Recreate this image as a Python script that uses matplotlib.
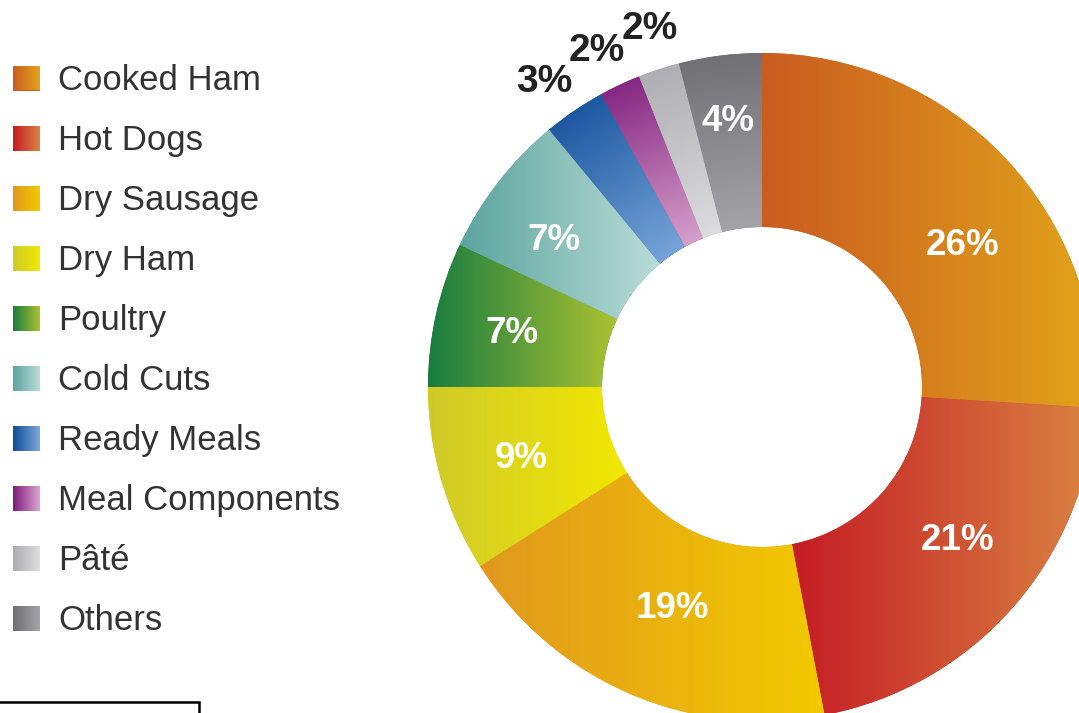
import numpy as np
import matplotlib
matplotlib.use("Agg")
import matplotlib.pyplot as plt
from matplotlib.colors import to_rgb

plt.rcParams['font.family'] = ['Liberation Sans', 'DejaVu Sans']

#data---------------------------------------------------------------------------
categories = ["Cooked Ham", "Hot Dogs", "Dry Sausage", "Dry Ham", "Poultry",
              "Cold Cuts", "Ready Meals", "Meal Components", "Pâté", "Others"]
shares = [26, 21, 19, 9, 7, 7, 3, 2, 2, 4]

#gradient colours for each slice (start -> end) and direction ('h' = left to right, 'r' = outer to inner)
grad_start = ["#C95C20", "#C41C24", "#E1981E", "#D0CA2A", "#187C40",
              "#5CA49E", "#0E4C98", "#7E1C7C", "#ACACB0", "#6E6E72"]
grad_end = ["#E2A41A", "#DA8442", "#F2CA00", "#F2E800", "#ACC232",
            "#BADDD8", "#7EAADC", "#DAA6CE", "#DEDEE0", "#A6A6AA"]
grad_dir = ["h", "h", "h", "h", "h", "h", "r", "r", "r", "r"]
#small nudges (px) for the percentage labels
label_nudge = [(18, -30), (8, 12), (10, 8), (0, -2), (-6, -1),
               (-10, -7), (-5, -9), (-4, -7), (5, -3), (0, -3)]

#canvas in pixel units
W, H = 1079, 713
fig = plt.figure(figsize=(W/100, H/100), dpi=100)
ax = fig.add_axes([0, 0, 1, 1])

cx, cy = 762, H - 387
r_out, ring = 334, 174

wedges, _ = ax.pie(shares, startangle=90, counterclock=False, radius=r_out,
                   center=(cx, cy), colors=grad_start,
                   wedgeprops=dict(width=ring, linewidth=0))

def gradient_fill(patch, c1, c2, direction):
    """Fill a patch with a linear gradient clipped to its outline"""
    bb = patch.get_path().get_extents(patch.get_patch_transform())
    x0, y0, x1, y1 = bb.x0, bb.y0, bb.x1, bb.y1
    xs = np.linspace(x0, x1, 300)
    ys = np.linspace(y0, y1, 300)
    X, Y = np.meshgrid(xs, ys)
    proj = X*direction[0] + Y*direction[1]
    t = (proj - proj.min())/(proj.max() - proj.min())
    a, b = np.array(to_rgb(c1)), np.array(to_rgb(c2))
    img = a + t[..., None]*(b - a)
    im = ax.imshow(img, extent=(x0, x1, y0, y1), origin="lower",
                   interpolation="bilinear", zorder=2, aspect="auto")
    im.set_clip_path(patch)

for w, c1, c2, d in zip(wedges, grad_start, grad_end, grad_dir):
    if d == "h":
        vec = (1, 0)
    else:
        mid = np.radians((w.theta1 + w.theta2)/2)
        vec = (-np.cos(mid), -np.sin(mid))
    gradient_fill(w, c1, c2, vec)

#percentage labels
for w, s, (nx, ny) in zip(wedges, shares, label_nudge):
    mid = np.radians((w.theta1 + w.theta2)/2)
    if s <= 3:
        dist, col, fs = 1.135, "#222222", 28
    elif s == 4:
        dist, col, fs = 0.81, "white", 26.5
    else:
        dist, col, fs = 0.75, "white", 26.5
    ax.text(cx + dist*r_out*np.cos(mid) + nx, cy + dist*r_out*np.sin(mid) + ny,
            f"{s}%", ha="center", va="center", fontsize=fs, fontweight="bold",
            color=col, zorder=5)

#legend with gradient squares
for i, (name, c1, c2) in enumerate(zip(categories, grad_start, grad_end)):
    yc = H - 78 - i*60.1
    sq = plt.Rectangle((13, yc - 12.5), 27, 25, facecolor=c1, linewidth=0)
    ax.add_patch(sq)
    gradient_fill(sq, c1, c2, (1, 0))
    ax.text(58, yc - 2, name, ha="left", va="center", fontsize=25, color="#333333")

#box corner at bottom left
ax.plot([0, 199, 199], [11, 11, 0], color="black", linewidth=1.8,
        solid_joinstyle="miter", zorder=6)

ax.set_xlim(0, W)
ax.set_ylim(0, H)
ax.set_aspect("equal")
ax.axis("off")
fig.savefig("out.png", dpi=100)
